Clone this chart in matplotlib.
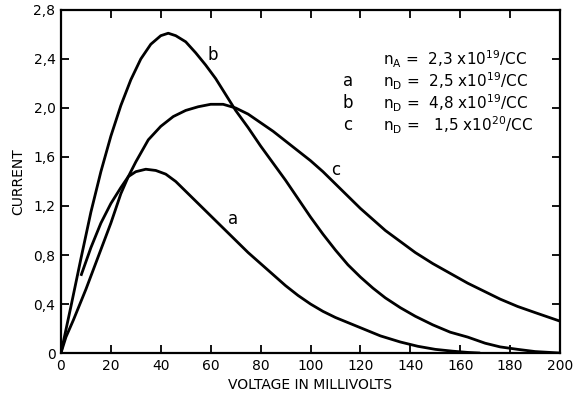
import matplotlib
matplotlib.use('Agg')
import matplotlib.pyplot as plt

# curve a (starts at ~8 mV)
a_mv = [8, 12, 16, 20, 24, 27, 30, 34, 38, 42, 46, 50, 55, 60, 65, 70, 75, 80,
        85, 90, 95, 100, 105, 110, 116, 122, 128, 136, 143, 150, 157, 163, 168]
a_cur = [0.63, 0.86, 1.06, 1.22, 1.35, 1.44, 1.48, 1.50, 1.49, 1.46, 1.40, 1.32,
         1.22, 1.12, 1.02, 0.92, 0.82, 0.73, 0.64, 0.55, 0.47, 0.40, 0.34, 0.29,
         0.24, 0.19, 0.14, 0.09, 0.055, 0.03, 0.015, 0.005, 0.0]

# curve b
b_mv = [0, 4, 8, 12, 16, 20, 24, 28, 32, 36, 40, 43, 46, 50, 54, 58, 62, 66, 70,
        75, 80, 85, 90, 95, 100, 105, 110, 115, 120, 125, 130, 136, 142, 149,
        156, 163, 170, 176, 183, 190, 200]
b_cur = [0.0, 0.38, 0.77, 1.15, 1.48, 1.77, 2.02, 2.23, 2.40, 2.52, 2.59, 2.61,
         2.59, 2.54, 2.45, 2.35, 2.24, 2.11, 1.98, 1.84, 1.69, 1.55, 1.41, 1.26,
         1.11, 0.97, 0.84, 0.72, 0.62, 0.53, 0.45, 0.37, 0.30, 0.23, 0.17, 0.13,
         0.08, 0.05, 0.03, 0.012, 0.0]

# curve c
c_mv = [0, 2, 5, 10, 15, 20, 24, 27, 30, 35, 40, 45, 50, 55, 60, 65, 70, 75, 80,
        85, 90, 95, 100, 105, 110, 115, 120, 125, 130, 136, 142, 149, 156, 163,
        170, 176, 183, 190, 200]
c_cur = [0.0, 0.13, 0.27, 0.52, 0.79, 1.06, 1.30, 1.44, 1.56, 1.74, 1.85, 1.93,
         1.98, 2.01, 2.03, 2.03, 2.00, 1.95, 1.88, 1.81, 1.73, 1.65, 1.57, 1.48,
         1.38, 1.28, 1.18, 1.09, 1.00, 0.91, 0.82, 0.73, 0.65, 0.57, 0.50, 0.44,
         0.38, 0.33, 0.26]

x_ticks = list(range(0, 201, 20))
y_ticks = [0, 0.4, 0.8, 1.2, 1.6, 2.0, 2.4, 2.8]
y_labels = ['0', '0,4', '0,8', '1,2', '1,6', '2,0', '2,4', '2,8']

legend_rows = [
    ('', r'$\mathregular{n_A}$ =  2,3 x10$^{\mathregular{19}}$/CC'),
    ('a', r'$\mathregular{n_D}$ =  2,5 x10$^{\mathregular{19}}$/CC'),
    ('b', r'$\mathregular{n_D}$ =  4,8 x10$^{\mathregular{19}}$/CC'),
    ('c', r'$\mathregular{n_D}$ =   1,5 x10$^{\mathregular{20}}$/CC'),
]

fig = plt.figure(figsize=(5.75, 3.98), dpi=100)
ax = fig.add_axes([0.106, 0.113, 0.868, 0.862])

for xs, ys in [(a_mv, a_cur), (b_mv, b_cur), (c_mv, c_cur)]:
    ax.plot(xs, ys, color='black', lw=2.0, solid_capstyle='butt',
            solid_joinstyle='round')

ax.set_xlim(0, 200)
ax.set_ylim(0, 2.8)
ax.set_xticks(x_ticks)
ax.set_yticks(y_ticks)
ax.set_yticklabels(y_labels)
ax.tick_params(direction='in', length=6, width=1.3, top=True, right=True,
               labelsize=10, pad=4)
for s in ax.spines.values():
    s.set_linewidth(1.6)

ax.set_xlabel('VOLTAGE IN MILLIVOLTS', fontsize=10, labelpad=4)
ax.set_ylabel('CURRENT', fontsize=10, labelpad=6)

# curve labels
ax.text(61, 2.43, 'b', fontsize=12, ha='center', va='center')
ax.text(69, 1.09, 'a', fontsize=12, ha='center', va='center')
ax.text(110, 1.49, 'c', fontsize=12, ha='center', va='center')

row_y = [2.40, 2.22, 2.04, 1.86]
for (tag, txt), yy in zip(legend_rows, row_y):
    if tag:
        ax.text(115, yy, tag, fontsize=12, ha='center', va='center')
    ax.text(129, yy, txt, fontsize=11, ha='left', va='center')

fig.savefig('out.png', dpi=100)
